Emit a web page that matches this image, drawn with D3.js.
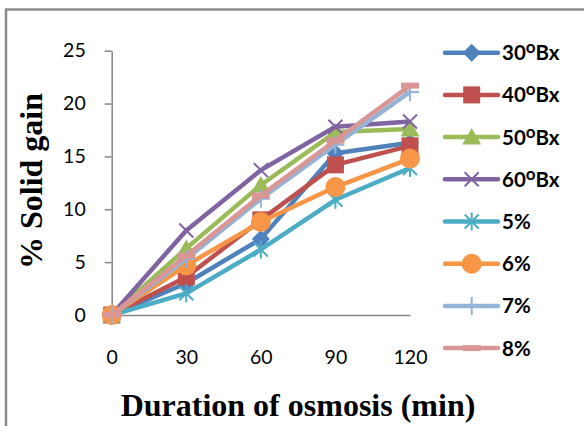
<!DOCTYPE html>
<html><head><meta charset="utf-8">
<script src="https://cdn.jsdelivr.net/npm/d3@7"></script>
<style>body{margin:0;background:#fff}svg{display:block}</style>
</head><body>
<svg id="c" width="584" height="426"></svg>
<script>
const durations = [0, 30, 60, 90, 120];
const yTicks = [0, 5, 10, 15, 20, 25];
const seriesNames = ["30", "40", "50", "60", "5%", "6%", "7%", "8%"];
const s30Bx = [0, 3.0, 7.2, 15.3, 16.3];
const s40Bx = [0, 3.6, 9.0, 14.2, 16.0];
const s50Bx = [0, 6.3, 12.3, 17.3, 17.6];
const s60Bx = [0, 8.0, 13.7, 17.8, 18.3];
const s5pct = [0, 2.05, 6.2, 10.9, 13.9];
const s6pct = [0, 4.7, 8.8, 12.1, 14.8];
const s7pct = [0, 5.3, 11.0, 16.1, 21.1];
const s8pct = [0, 5.6, 11.3, 16.5, 21.7];

const values = [s30Bx, s40Bx, s50Bx, s60Bx, s5pct, s6pct, s7pct, s8pct];
const colors = ["#4F81BD", "#C0504D", "#9BBB59", "#8064A2", "#4BACC6", "#F79646", "#95B3D7", "#D99694"];
const markers = ["diamond", "square", "triangle", "x", "star", "circle", "plus", "dash"];

const svg = d3.select("#c");
// outer frame
svg.append("rect").attr("x", 6).attr("y", 9.5).attr("width", 700).attr("height", 600)
  .attr("fill", "none").attr("stroke", "#8c8c8c").attr("stroke-width", 2.5);

const x = d3.scaleLinear().domain([0, 120]).range([111.7, 410]);
const y = d3.scaleLinear().domain([0, 25]).range([315, 50.7]);

const tickFont = "Lato, 'Open Sans', sans-serif";

const gy = svg.append("g").attr("transform", "translate(111.7,0)")
  .call(d3.axisLeft(y).tickValues(yTicks).tickSize(7).tickSizeOuter(0).tickPadding(19));
gy.select(".domain").attr("stroke", "#868686").attr("stroke-width", 1.5);
gy.selectAll(".tick line").attr("stroke", "#868686").attr("stroke-width", 1.5);
gy.selectAll("text").attr("font-family", tickFont).attr("font-size", 19.5).attr("fill", "#000");

const gx = svg.append("g").attr("transform", "translate(0,315)")
  .call(d3.axisBottom(x).tickValues(durations).tickSize(0).tickSizeOuter(0).tickPadding(35));
gx.select(".domain").attr("stroke", "#868686").attr("stroke-width", 1.5);
gx.selectAll("text").attr("font-family", tickFont).attr("font-size", 19.5).attr("fill", "#000");

// axis titles
svg.append("text").attr("x", 298).attr("y", 416).attr("text-anchor", "middle")
  .attr("font-family", "'Liberation Serif', 'Times New Roman', serif").attr("font-weight", "bold")
  .attr("font-size", 32).text("Duration of osmosis (min)");
svg.append("text").attr("transform", "translate(42,181) rotate(-90)").attr("text-anchor", "middle")
  .attr("font-family", "'Liberation Serif', 'Times New Roman', serif").attr("font-weight", "bold")
  .attr("font-size", 32).text("% Solid gain");

function drawMarker(g, type, color) {
  switch (type) {
    case "diamond":
      g.append("path").attr("d", "M0,-9L9,0L0,9L-9,0Z").attr("fill", color); break;
    case "square":
      g.append("rect").attr("x", -8.5).attr("y", -8.5).attr("width", 17).attr("height", 17).attr("fill", color); break;
    case "triangle":
      g.append("path").attr("d", "M0,-9L9.5,7.5L-9.5,7.5Z").attr("fill", color); break;
    case "x":
      g.append("path").attr("d", "M-7,-7L7,7M-7,7L7,-7").attr("stroke", color).attr("stroke-width", 2).attr("fill", "none"); break;
    case "star":
      g.append("path").attr("d", "M-7,-7L7,7M-7,7L7,-7M0,-9L0,9").attr("stroke", color).attr("stroke-width", 2).attr("fill", "none"); break;
    case "circle":
      g.append("circle").attr("r", 10).attr("fill", color); break;
    case "plus":
      g.append("path").attr("d", "M0,-9L0,9M-9,0L9,0").attr("stroke", color).attr("stroke-width", 2).attr("fill", "none"); break;
    case "dash":
      g.append("rect").attr("x", -9).attr("y", -3).attr("width", 18).attr("height", 6).attr("fill", color); break;
  }
}

const line = d3.line().x((d, i) => x(durations[i])).y(d => y(d));
values.forEach((vals, si) => {
  const g = svg.append("g");
  g.append("path").attr("d", line(vals)).attr("fill", "none").attr("stroke", colors[si])
    .attr("stroke-width", 4.5).attr("stroke-linejoin", "round");
  vals.forEach((v, i) => {
    const m = g.append("g").attr("transform", `translate(${x(durations[i])},${y(v)})`);
    drawMarker(m, markers[si], colors[si]);
  });
});

// legend
const leg = svg.append("g");
seriesNames.forEach((name, i) => {
  const ly = 52.7 + i * 42.2;
  const g = leg.append("g").attr("transform", `translate(0,${ly})`);
  g.append("line").attr("x1", 445).attr("x2", 498).attr("y1", 0).attr("y2", 0)
    .attr("stroke", colors[i]).attr("stroke-width", 4.5).attr("stroke-linecap", "round");
  const m = g.append("g").attr("transform", "translate(471.7,0)");
  drawMarker(m, markers[i], colors[i]);
  const t = g.append("text").attr("x", 502).attr("y", 7.5)
    .attr("font-family", tickFont).attr("font-weight", "bold").attr("font-size", 20.5).attr("fill", "#000");
  if (name.indexOf("%") < 0) {
    t.append("tspan").text(name);
    t.append("tspan").attr("dy", -7).attr("font-size", 17).text("o");
    t.append("tspan").attr("dy", 7).text("Bx");
  } else {
    t.text(name);
  }
});
</script>
</body></html>
